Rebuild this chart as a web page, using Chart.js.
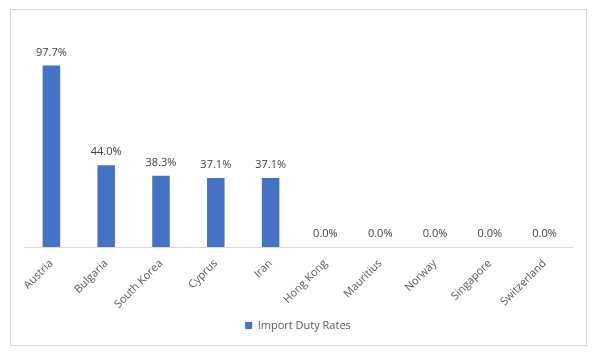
<!DOCTYPE html>
<html>
<head>
<meta charset="utf-8">
<script src="https://cdn.jsdelivr.net/npm/chart.js@4/dist/chart.umd.min.js"></script>
<style>
  html, body { margin: 0; padding: 0; background: #fff; }
  #wrap { position: relative; width: 603px; height: 358px; }
  #frame { position: absolute; left: 10px; top: 9px; width: 577px; height: 337px; box-sizing: border-box; border: 1px solid #d9d9d9; }
  #c { position: absolute; left: 0; top: 0; }
</style>
</head>
<body>
<div id="wrap">
  <div id="frame"></div>
  <canvas id="c" width="603" height="358"></canvas>
</div>
<script>
const countries = ["Austria", "Bulgaria", "South Korea", "Cyprus", "Iran", "Hong Kong", "Mauritius", "Norway", "Singapore", "Switzerland"];
const dutyRates = [97.7, 44.0, 38.3, 37.1, 37.1, 0.0, 0.0, 0.0, 0.0, 0.0];
const seriesName = "Import Duty Rates";

const FONT = "'Open Sans', 'Liberation Sans', sans-serif";

// value labels above each bar
const barLabels = {
  id: "barLabels",
  afterDatasetsDraw(chart) {
    const ctx = chart.ctx;
    const meta = chart.getDatasetMeta(0);
    ctx.save();
    ctx.font = "11px " + FONT;
    ctx.fillStyle = "#404040";
    ctx.textAlign = "center";
    ctx.textBaseline = "middle";
    meta.data.forEach((bar, i) => {
      ctx.fillText(dutyRates[i].toFixed(1) + "%", bar.x, bar.y - 13);
    });
    ctx.restore();
  }
};

new Chart(document.getElementById("c"), {
  type: "bar",
  data: {
    labels: countries,
    datasets: [{
      label: seriesName,
      data: dutyRates,
      backgroundColor: "#4472c4",
      borderWidth: 0,
      barPercentage: 0.64,
      categoryPercentage: 0.5
    }]
  },
  options: {
    responsive: false, animation: false,
    layout: { padding: { left: 24, right: 31, top: 24, bottom: 17 } },
    plugins: {
      tooltip: { enabled: false },
      legend: {
        position: "bottom",
        labels: { boxWidth: 7, boxHeight: 7, padding: 10, color: "#595959", font: { family: FONT, size: 11 } }
      }
    },
    scales: {
      x: {
        grid: { display: false },
        border: { display: true, color: "#d9d9d9", width: 1 },
        ticks: { color: "#595959", font: { family: FONT, size: 11 }, minRotation: 45, maxRotation: 45, padding: 2 },
        afterFit(scale) { scale.height = 63; }
      },
      y: { display: false, min: 0, max: 120 }
    }
  },
  plugins: [barLabels]
});
</script>
</body>
</html>
